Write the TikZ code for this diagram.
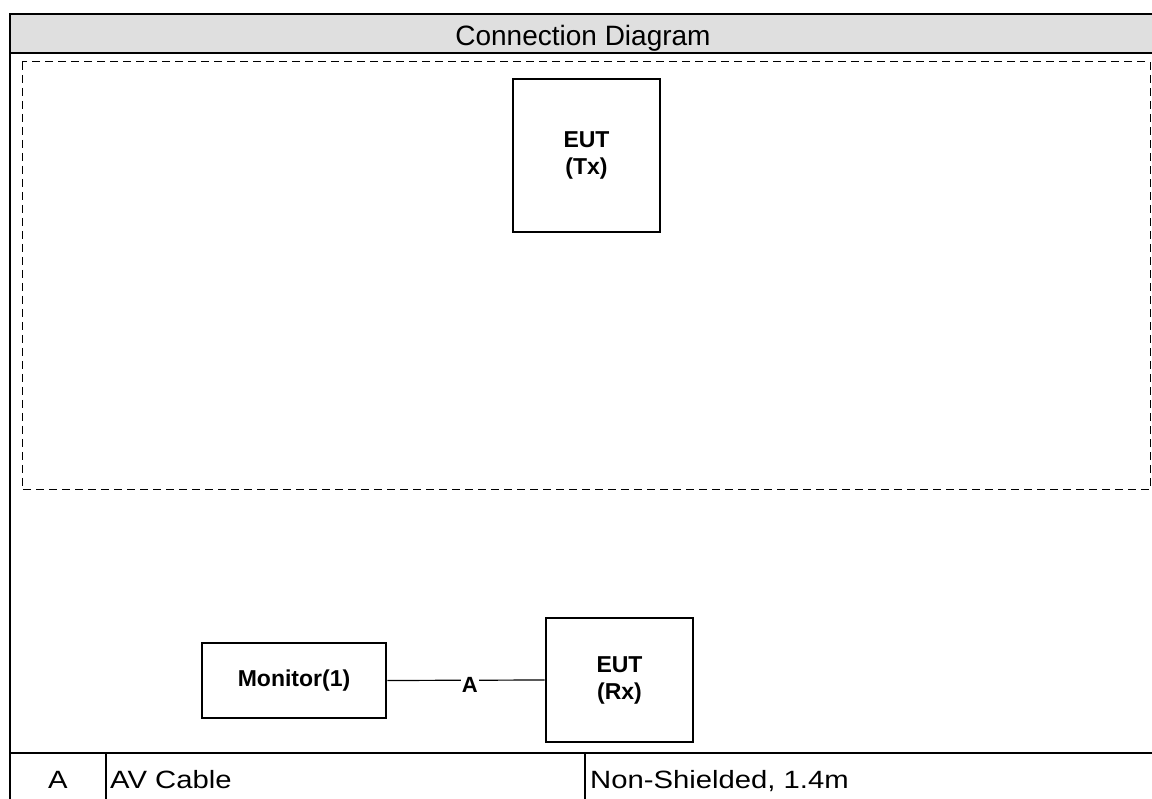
\documentclass[tikz,border=0pt]{standalone}
\usepackage{fontspec}
\setmainfont{Liberation Sans}
\newfontfamily\tabfont[FakeStretch=1.17]{Liberation Sans}
\definecolor{hdrgray}{RGB}{223,223,223}
\begin{document}
\begin{tikzpicture}[x=1pt,y=-1pt,
  frameline/.style={line width=2.4pt, draw=black},
  devbox/.style={draw=black, line width=2.8pt, align=center, inner sep=0pt,
    font=\bfseries\fontsize{23}{27}\selectfont},
  zone/.style={draw=black, line width=1pt, dash pattern=on 8pt off 5pt},
  cable/.style={draw=black, line width=1.2pt},
  cablelabel/.style={fill=white, inner sep=1pt, font=\bfseries\fontsize{22}{26}\selectfont},
  cell/.style={inner sep=0pt, anchor=base west, font=\tabfont\fontsize{25}{29}\selectfont},
  hdrtext/.style={inner sep=0pt, anchor=base, font=\fontsize{28}{32}\selectfont}]
\clip (0,0) rectangle (1152,799);
% outer frame and header
\fill[hdrgray] (10,14) rectangle (1156,53);
\draw[frameline] (10,14) rectangle (1156,820);
\draw[frameline] (10,53) -- (1156,53);
\node[hdrtext] (title) at (583,45.5) {Connection Diagram};
% dashed zone
\draw[zone] (22,62) rectangle (1150,490);
% devices
\node[devbox, minimum width=147pt, minimum height=153pt] (tx) at (586.5,155.5) {EUT\\(Tx)};
\node[devbox, minimum width=184pt, minimum height=75pt] (mon) at (294,680.5) {Monitor(1)};
\node[devbox, minimum width=147pt, minimum height=124pt] (rx) at (619.5,680) {EUT\\(Rx)};
% cable
\draw[cable] (mon.east) -- node[cablelabel, pos=0.525, yshift=-5pt] (alabel) {A} (rx.west);
% table
\draw[frameline] (10,753) -- (1156,753);
\draw[line width=2pt] (106,753) -- (106,810);
\draw[line width=2pt] (585,753) -- (585,810);
\node[cell, anchor=base] (ca) at (58,788) {A};
\node[cell] (cb) at (110,788) {AV Cable};
\node[cell] (cc) at (590,788) {Non-Shielded, 1.4m};
\end{tikzpicture}
\end{document}
